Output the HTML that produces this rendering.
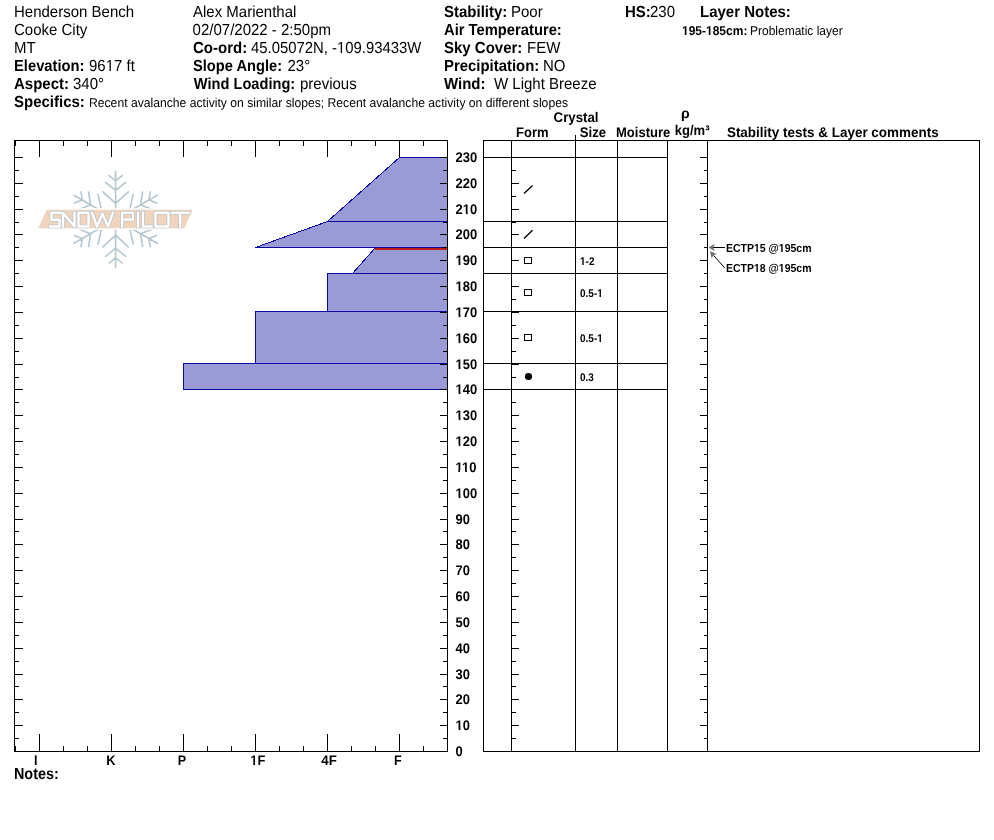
<!DOCTYPE html>
<html><head><meta charset="utf-8"><style>
html,body{margin:0;padding:0;background:#fff;width:994px;height:840px;overflow:hidden}
svg{display:block;will-change:transform}
text{font-family:"Liberation Sans", sans-serif;fill:#000;text-rendering:geometricPrecision}
</style></head><body>
<svg width="994" height="840" viewBox="0 0 994 840" shape-rendering="auto">
<text transform="translate(14,17) scale(1,1.067)" font-size="15">Henderson Bench</text>
<text transform="translate(14,35) scale(1,1.067)" font-size="15">Cooke City</text>
<text transform="translate(14,53) scale(1,1.067)" font-size="15">MT</text>
<text transform="translate(14,71) scale(1,1.067)" font-size="15" font-weight="bold" textLength="70.5" lengthAdjust="spacingAndGlyphs">Elevation:</text>
<text transform="translate(89,71) scale(1,1.067)" font-size="15">9617 ft</text>
<text transform="translate(14,89) scale(1,1.067)" font-size="15" font-weight="bold">Aspect:</text>
<text transform="translate(73,89) scale(1,1.067)" font-size="15">340°</text>
<text transform="translate(14,107) scale(1,1.067)" font-size="15" font-weight="bold">Specifics:</text>
<text transform="translate(89,107) scale(1,1.07)" font-size="12" textLength="479" lengthAdjust="spacingAndGlyphs">Recent avalanche activity on similar slopes; Recent avalanche activity on different slopes</text>
<text transform="translate(193,17) scale(1,1.067)" font-size="15">Alex Marienthal</text>
<text transform="translate(192.6,35) scale(1,1.067)" font-size="15">02/07/2022 - 2:50pm</text>
<text transform="translate(193,53) scale(1,1.067)" font-size="15" font-weight="bold">Co-ord:</text>
<text transform="translate(251,53) scale(1,1.067)" font-size="15" textLength="170.4" lengthAdjust="spacingAndGlyphs">45.05072N, -109.93433W</text>
<text transform="translate(193,71) scale(1,1.067)" font-size="15" font-weight="bold" textLength="89.1" lengthAdjust="spacingAndGlyphs">Slope Angle:</text>
<text transform="translate(287.5,71) scale(1,1.067)" font-size="15">23°</text>
<text transform="translate(193.8,89) scale(1,1.067)" font-size="15" font-weight="bold" textLength="101.4" lengthAdjust="spacingAndGlyphs">Wind Loading:</text>
<text transform="translate(300,89) scale(1,1.067)" font-size="15">previous</text>
<text transform="translate(444,17) scale(1,1.067)" font-size="15" font-weight="bold">Stability:</text>
<text transform="translate(511,17) scale(1,1.067)" font-size="15">Poor</text>
<text transform="translate(444,35) scale(1,1.067)" font-size="15" font-weight="bold" textLength="117.8" lengthAdjust="spacingAndGlyphs">Air Temperature:</text>
<text transform="translate(444,53) scale(1,1.067)" font-size="15" font-weight="bold">Sky Cover:</text>
<text transform="translate(527,53) scale(1,1.067)" font-size="15">FEW</text>
<text transform="translate(444,71) scale(1,1.067)" font-size="15" font-weight="bold" textLength="95.3" lengthAdjust="spacingAndGlyphs">Precipitation:</text>
<text transform="translate(543,71) scale(1,1.067)" font-size="15">NO</text>
<text transform="translate(444,89) scale(1,1.067)" font-size="15" font-weight="bold">Wind:</text>
<text transform="translate(494,89) scale(1,1.067)" font-size="15">W Light Breeze</text>
<text transform="translate(625,17) scale(1,1.067)" font-size="15" font-weight="bold">HS:</text>
<text transform="translate(650,17) scale(1,1.067)" font-size="15">230</text>
<text transform="translate(700,17) scale(1,1.067)" font-size="15" font-weight="bold">Layer Notes:</text>
<text transform="translate(682,35) scale(1,1.07)" font-size="12" font-weight="bold">195-185cm:</text>
<text transform="translate(750,35) scale(1,1.07)" font-size="12">Problematic layer</text>
<text transform="translate(553.6,122) scale(0.946,1)" font-size="14" font-weight="bold">Crystal</text>
<text transform="translate(516,137) scale(0.93,1)" font-size="14" font-weight="bold">Form</text>
<text transform="translate(579.7,137) scale(0.94,1)" font-size="14" font-weight="bold">Size</text>
<text transform="translate(616,137) scale(0.93,1)" font-size="14" font-weight="bold">Moisture</text>
<text transform="translate(681.1,117.8) scale(1.0,1)" font-size="14" font-weight="bold">ρ</text>
<text transform="translate(674.8,135) scale(0.93,1)" font-size="14" font-weight="bold">kg/m³</text>
<text transform="translate(726.9,137) scale(0.962,1)" font-size="14" font-weight="bold">Stability tests &amp; Layer comments</text>
<polygon points="447.5,157.5 399.5,157.5 327.5,221.5 447.5,221.5" fill="#9a9ad6" stroke="#0c0aa0" stroke-width="1" shape-rendering="crispEdges"/>
<polygon points="447.5,221.5 327.5,221.5 255.5,247.5 447.5,247.5" fill="#9a9ad6" stroke="#0c0aa0" stroke-width="1" shape-rendering="crispEdges"/>
<polygon points="447.5,247.5 375.5,247.5 352.5,273.5 447.5,273.5" fill="#9a9ad6" stroke="#0c0aa0" stroke-width="1" shape-rendering="crispEdges"/>
<polygon points="447.5,273.5 327.5,273.5 327.5,311.5 447.5,311.5" fill="#9a9ad6" stroke="#0c0aa0" stroke-width="1" shape-rendering="crispEdges"/>
<polygon points="447.5,311.5 255.5,311.5 255.5,363.5 447.5,363.5" fill="#9a9ad6" stroke="#0c0aa0" stroke-width="1" shape-rendering="crispEdges"/>
<polygon points="447.5,363.5 183.5,363.5 183.5,389.5 447.5,389.5" fill="#9a9ad6" stroke="#0c0aa0" stroke-width="1" shape-rendering="crispEdges"/>
<rect x="375" y="248" width="72" height="2" fill="#be1e16"/>
<rect x="14" y="140" width="434" height="1" fill="#000"/>
<rect x="14" y="751" width="434" height="1" fill="#000"/>
<rect x="14" y="140" width="1" height="612" fill="#000"/>
<rect x="447" y="140" width="1" height="612" fill="#000"/>
<rect x="15" y="140" width="1" height="6" fill="#000"/>
<rect x="15" y="746" width="1" height="6" fill="#000"/>
<rect x="39" y="140" width="1" height="17" fill="#000"/>
<rect x="39" y="734" width="1" height="18" fill="#000"/>
<rect x="63" y="140" width="1" height="6" fill="#000"/>
<rect x="63" y="746" width="1" height="6" fill="#000"/>
<rect x="87" y="140" width="1" height="6" fill="#000"/>
<rect x="87" y="746" width="1" height="6" fill="#000"/>
<rect x="111" y="140" width="1" height="17" fill="#000"/>
<rect x="111" y="734" width="1" height="18" fill="#000"/>
<rect x="135" y="140" width="1" height="6" fill="#000"/>
<rect x="135" y="746" width="1" height="6" fill="#000"/>
<rect x="159" y="140" width="1" height="6" fill="#000"/>
<rect x="159" y="746" width="1" height="6" fill="#000"/>
<rect x="183" y="140" width="1" height="17" fill="#000"/>
<rect x="183" y="734" width="1" height="18" fill="#000"/>
<rect x="207" y="140" width="1" height="6" fill="#000"/>
<rect x="207" y="746" width="1" height="6" fill="#000"/>
<rect x="231" y="140" width="1" height="6" fill="#000"/>
<rect x="231" y="746" width="1" height="6" fill="#000"/>
<rect x="255" y="140" width="1" height="17" fill="#000"/>
<rect x="255" y="734" width="1" height="18" fill="#000"/>
<rect x="279" y="140" width="1" height="6" fill="#000"/>
<rect x="279" y="746" width="1" height="6" fill="#000"/>
<rect x="303" y="140" width="1" height="6" fill="#000"/>
<rect x="303" y="746" width="1" height="6" fill="#000"/>
<rect x="327" y="140" width="1" height="17" fill="#000"/>
<rect x="327" y="734" width="1" height="18" fill="#000"/>
<rect x="351" y="140" width="1" height="6" fill="#000"/>
<rect x="351" y="746" width="1" height="6" fill="#000"/>
<rect x="375" y="140" width="1" height="6" fill="#000"/>
<rect x="375" y="746" width="1" height="6" fill="#000"/>
<rect x="399" y="140" width="1" height="17" fill="#000"/>
<rect x="399" y="734" width="1" height="18" fill="#000"/>
<rect x="423" y="140" width="1" height="6" fill="#000"/>
<rect x="423" y="746" width="1" height="6" fill="#000"/>
<rect x="447" y="140" width="1" height="6" fill="#000"/>
<rect x="447" y="746" width="1" height="6" fill="#000"/>
<rect x="14" y="751" width="9" height="1" fill="#000"/>
<rect x="440" y="751" width="8" height="1" fill="#000"/>
<rect x="511" y="751" width="8" height="1" fill="#000"/>
<rect x="700" y="751" width="8" height="1" fill="#000"/>
<text transform="translate(455.6,756.1) scale(0.925,1)" font-size="14" font-weight="bold">0</text>
<rect x="14" y="738" width="5" height="1" fill="#000"/>
<rect x="443" y="738" width="5" height="1" fill="#000"/>
<rect x="511" y="738" width="5" height="1" fill="#000"/>
<rect x="704" y="738" width="4" height="1" fill="#000"/>
<rect x="14" y="725" width="9" height="1" fill="#000"/>
<rect x="440" y="725" width="8" height="1" fill="#000"/>
<rect x="511" y="725" width="8" height="1" fill="#000"/>
<rect x="700" y="725" width="8" height="1" fill="#000"/>
<text transform="translate(455.6,730.1) scale(0.925,1)" font-size="14" font-weight="bold">10</text>
<rect x="14" y="712" width="5" height="1" fill="#000"/>
<rect x="443" y="712" width="5" height="1" fill="#000"/>
<rect x="511" y="712" width="5" height="1" fill="#000"/>
<rect x="704" y="712" width="4" height="1" fill="#000"/>
<rect x="14" y="699" width="9" height="1" fill="#000"/>
<rect x="440" y="699" width="8" height="1" fill="#000"/>
<rect x="511" y="699" width="8" height="1" fill="#000"/>
<rect x="700" y="699" width="8" height="1" fill="#000"/>
<text transform="translate(455.6,704.1) scale(0.925,1)" font-size="14" font-weight="bold">20</text>
<rect x="14" y="686" width="5" height="1" fill="#000"/>
<rect x="443" y="686" width="5" height="1" fill="#000"/>
<rect x="511" y="686" width="5" height="1" fill="#000"/>
<rect x="704" y="686" width="4" height="1" fill="#000"/>
<rect x="14" y="674" width="9" height="1" fill="#000"/>
<rect x="440" y="674" width="8" height="1" fill="#000"/>
<rect x="511" y="674" width="8" height="1" fill="#000"/>
<rect x="700" y="674" width="8" height="1" fill="#000"/>
<text transform="translate(455.6,679.1) scale(0.925,1)" font-size="14" font-weight="bold">30</text>
<rect x="14" y="661" width="5" height="1" fill="#000"/>
<rect x="443" y="661" width="5" height="1" fill="#000"/>
<rect x="511" y="661" width="5" height="1" fill="#000"/>
<rect x="704" y="661" width="4" height="1" fill="#000"/>
<rect x="14" y="648" width="9" height="1" fill="#000"/>
<rect x="440" y="648" width="8" height="1" fill="#000"/>
<rect x="511" y="648" width="8" height="1" fill="#000"/>
<rect x="700" y="648" width="8" height="1" fill="#000"/>
<text transform="translate(455.6,653.1) scale(0.925,1)" font-size="14" font-weight="bold">40</text>
<rect x="14" y="635" width="5" height="1" fill="#000"/>
<rect x="443" y="635" width="5" height="1" fill="#000"/>
<rect x="511" y="635" width="5" height="1" fill="#000"/>
<rect x="704" y="635" width="4" height="1" fill="#000"/>
<rect x="14" y="622" width="9" height="1" fill="#000"/>
<rect x="440" y="622" width="8" height="1" fill="#000"/>
<rect x="511" y="622" width="8" height="1" fill="#000"/>
<rect x="700" y="622" width="8" height="1" fill="#000"/>
<text transform="translate(455.6,627.1) scale(0.925,1)" font-size="14" font-weight="bold">50</text>
<rect x="14" y="609" width="5" height="1" fill="#000"/>
<rect x="443" y="609" width="5" height="1" fill="#000"/>
<rect x="511" y="609" width="5" height="1" fill="#000"/>
<rect x="704" y="609" width="4" height="1" fill="#000"/>
<rect x="14" y="596" width="9" height="1" fill="#000"/>
<rect x="440" y="596" width="8" height="1" fill="#000"/>
<rect x="511" y="596" width="8" height="1" fill="#000"/>
<rect x="700" y="596" width="8" height="1" fill="#000"/>
<text transform="translate(455.6,601.1) scale(0.925,1)" font-size="14" font-weight="bold">60</text>
<rect x="14" y="583" width="5" height="1" fill="#000"/>
<rect x="443" y="583" width="5" height="1" fill="#000"/>
<rect x="511" y="583" width="5" height="1" fill="#000"/>
<rect x="704" y="583" width="4" height="1" fill="#000"/>
<rect x="14" y="570" width="9" height="1" fill="#000"/>
<rect x="440" y="570" width="8" height="1" fill="#000"/>
<rect x="511" y="570" width="8" height="1" fill="#000"/>
<rect x="700" y="570" width="8" height="1" fill="#000"/>
<text transform="translate(455.6,575.1) scale(0.925,1)" font-size="14" font-weight="bold">70</text>
<rect x="14" y="557" width="5" height="1" fill="#000"/>
<rect x="443" y="557" width="5" height="1" fill="#000"/>
<rect x="511" y="557" width="5" height="1" fill="#000"/>
<rect x="704" y="557" width="4" height="1" fill="#000"/>
<rect x="14" y="544" width="9" height="1" fill="#000"/>
<rect x="440" y="544" width="8" height="1" fill="#000"/>
<rect x="511" y="544" width="8" height="1" fill="#000"/>
<rect x="700" y="544" width="8" height="1" fill="#000"/>
<text transform="translate(455.6,549.1) scale(0.925,1)" font-size="14" font-weight="bold">80</text>
<rect x="14" y="531" width="5" height="1" fill="#000"/>
<rect x="443" y="531" width="5" height="1" fill="#000"/>
<rect x="511" y="531" width="5" height="1" fill="#000"/>
<rect x="704" y="531" width="4" height="1" fill="#000"/>
<rect x="14" y="519" width="9" height="1" fill="#000"/>
<rect x="440" y="519" width="8" height="1" fill="#000"/>
<rect x="511" y="519" width="8" height="1" fill="#000"/>
<rect x="700" y="519" width="8" height="1" fill="#000"/>
<text transform="translate(455.6,524.1) scale(0.925,1)" font-size="14" font-weight="bold">90</text>
<rect x="14" y="506" width="5" height="1" fill="#000"/>
<rect x="443" y="506" width="5" height="1" fill="#000"/>
<rect x="511" y="506" width="5" height="1" fill="#000"/>
<rect x="704" y="506" width="4" height="1" fill="#000"/>
<rect x="14" y="493" width="9" height="1" fill="#000"/>
<rect x="440" y="493" width="8" height="1" fill="#000"/>
<rect x="511" y="493" width="8" height="1" fill="#000"/>
<rect x="700" y="493" width="8" height="1" fill="#000"/>
<text transform="translate(455.6,498.1) scale(0.925,1)" font-size="14" font-weight="bold">100</text>
<rect x="14" y="480" width="5" height="1" fill="#000"/>
<rect x="443" y="480" width="5" height="1" fill="#000"/>
<rect x="511" y="480" width="5" height="1" fill="#000"/>
<rect x="704" y="480" width="4" height="1" fill="#000"/>
<rect x="14" y="467" width="9" height="1" fill="#000"/>
<rect x="440" y="467" width="8" height="1" fill="#000"/>
<rect x="511" y="467" width="8" height="1" fill="#000"/>
<rect x="700" y="467" width="8" height="1" fill="#000"/>
<text transform="translate(455.6,472.1) scale(0.925,1)" font-size="14" font-weight="bold">110</text>
<rect x="14" y="454" width="5" height="1" fill="#000"/>
<rect x="443" y="454" width="5" height="1" fill="#000"/>
<rect x="511" y="454" width="5" height="1" fill="#000"/>
<rect x="704" y="454" width="4" height="1" fill="#000"/>
<rect x="14" y="441" width="9" height="1" fill="#000"/>
<rect x="440" y="441" width="8" height="1" fill="#000"/>
<rect x="511" y="441" width="8" height="1" fill="#000"/>
<rect x="700" y="441" width="8" height="1" fill="#000"/>
<text transform="translate(455.6,446.1) scale(0.925,1)" font-size="14" font-weight="bold">120</text>
<rect x="14" y="428" width="5" height="1" fill="#000"/>
<rect x="443" y="428" width="5" height="1" fill="#000"/>
<rect x="511" y="428" width="5" height="1" fill="#000"/>
<rect x="704" y="428" width="4" height="1" fill="#000"/>
<rect x="14" y="415" width="9" height="1" fill="#000"/>
<rect x="440" y="415" width="8" height="1" fill="#000"/>
<rect x="511" y="415" width="8" height="1" fill="#000"/>
<rect x="700" y="415" width="8" height="1" fill="#000"/>
<text transform="translate(455.6,420.1) scale(0.925,1)" font-size="14" font-weight="bold">130</text>
<rect x="14" y="402" width="5" height="1" fill="#000"/>
<rect x="443" y="402" width="5" height="1" fill="#000"/>
<rect x="511" y="402" width="5" height="1" fill="#000"/>
<rect x="704" y="402" width="4" height="1" fill="#000"/>
<rect x="14" y="389" width="9" height="1" fill="#000"/>
<rect x="440" y="389" width="8" height="1" fill="#000"/>
<rect x="511" y="389" width="8" height="1" fill="#000"/>
<rect x="700" y="389" width="8" height="1" fill="#000"/>
<text transform="translate(455.6,394.1) scale(0.925,1)" font-size="14" font-weight="bold">140</text>
<rect x="14" y="377" width="5" height="1" fill="#000"/>
<rect x="443" y="377" width="5" height="1" fill="#000"/>
<rect x="511" y="377" width="5" height="1" fill="#000"/>
<rect x="704" y="377" width="4" height="1" fill="#000"/>
<rect x="14" y="364" width="9" height="1" fill="#000"/>
<rect x="440" y="364" width="8" height="1" fill="#000"/>
<rect x="511" y="364" width="8" height="1" fill="#000"/>
<rect x="700" y="364" width="8" height="1" fill="#000"/>
<text transform="translate(455.6,369.1) scale(0.925,1)" font-size="14" font-weight="bold">150</text>
<rect x="14" y="351" width="5" height="1" fill="#000"/>
<rect x="443" y="351" width="5" height="1" fill="#000"/>
<rect x="511" y="351" width="5" height="1" fill="#000"/>
<rect x="704" y="351" width="4" height="1" fill="#000"/>
<rect x="14" y="338" width="9" height="1" fill="#000"/>
<rect x="440" y="338" width="8" height="1" fill="#000"/>
<rect x="511" y="338" width="8" height="1" fill="#000"/>
<rect x="700" y="338" width="8" height="1" fill="#000"/>
<text transform="translate(455.6,343.1) scale(0.925,1)" font-size="14" font-weight="bold">160</text>
<rect x="14" y="325" width="5" height="1" fill="#000"/>
<rect x="443" y="325" width="5" height="1" fill="#000"/>
<rect x="511" y="325" width="5" height="1" fill="#000"/>
<rect x="704" y="325" width="4" height="1" fill="#000"/>
<rect x="14" y="312" width="9" height="1" fill="#000"/>
<rect x="440" y="312" width="8" height="1" fill="#000"/>
<rect x="511" y="312" width="8" height="1" fill="#000"/>
<rect x="700" y="312" width="8" height="1" fill="#000"/>
<text transform="translate(455.6,317.1) scale(0.925,1)" font-size="14" font-weight="bold">170</text>
<rect x="14" y="299" width="5" height="1" fill="#000"/>
<rect x="443" y="299" width="5" height="1" fill="#000"/>
<rect x="511" y="299" width="5" height="1" fill="#000"/>
<rect x="704" y="299" width="4" height="1" fill="#000"/>
<rect x="14" y="286" width="9" height="1" fill="#000"/>
<rect x="440" y="286" width="8" height="1" fill="#000"/>
<rect x="511" y="286" width="8" height="1" fill="#000"/>
<rect x="700" y="286" width="8" height="1" fill="#000"/>
<text transform="translate(455.6,291.1) scale(0.925,1)" font-size="14" font-weight="bold">180</text>
<rect x="14" y="273" width="5" height="1" fill="#000"/>
<rect x="443" y="273" width="5" height="1" fill="#000"/>
<rect x="511" y="273" width="5" height="1" fill="#000"/>
<rect x="704" y="273" width="4" height="1" fill="#000"/>
<rect x="14" y="260" width="9" height="1" fill="#000"/>
<rect x="440" y="260" width="8" height="1" fill="#000"/>
<rect x="511" y="260" width="8" height="1" fill="#000"/>
<rect x="700" y="260" width="8" height="1" fill="#000"/>
<text transform="translate(455.6,265.1) scale(0.925,1)" font-size="14" font-weight="bold">190</text>
<rect x="14" y="247" width="5" height="1" fill="#000"/>
<rect x="443" y="247" width="5" height="1" fill="#000"/>
<rect x="511" y="247" width="5" height="1" fill="#000"/>
<rect x="704" y="247" width="4" height="1" fill="#000"/>
<rect x="14" y="234" width="9" height="1" fill="#000"/>
<rect x="440" y="234" width="8" height="1" fill="#000"/>
<rect x="511" y="234" width="8" height="1" fill="#000"/>
<rect x="700" y="234" width="8" height="1" fill="#000"/>
<text transform="translate(455.6,239.1) scale(0.925,1)" font-size="14" font-weight="bold">200</text>
<rect x="14" y="222" width="5" height="1" fill="#000"/>
<rect x="443" y="222" width="5" height="1" fill="#000"/>
<rect x="511" y="222" width="5" height="1" fill="#000"/>
<rect x="704" y="222" width="4" height="1" fill="#000"/>
<rect x="14" y="209" width="9" height="1" fill="#000"/>
<rect x="440" y="209" width="8" height="1" fill="#000"/>
<rect x="511" y="209" width="8" height="1" fill="#000"/>
<rect x="700" y="209" width="8" height="1" fill="#000"/>
<text transform="translate(455.6,214.1) scale(0.925,1)" font-size="14" font-weight="bold">210</text>
<rect x="14" y="196" width="5" height="1" fill="#000"/>
<rect x="443" y="196" width="5" height="1" fill="#000"/>
<rect x="511" y="196" width="5" height="1" fill="#000"/>
<rect x="704" y="196" width="4" height="1" fill="#000"/>
<rect x="14" y="183" width="9" height="1" fill="#000"/>
<rect x="440" y="183" width="8" height="1" fill="#000"/>
<rect x="511" y="183" width="8" height="1" fill="#000"/>
<rect x="700" y="183" width="8" height="1" fill="#000"/>
<text transform="translate(455.6,188.1) scale(0.925,1)" font-size="14" font-weight="bold">220</text>
<rect x="14" y="170" width="5" height="1" fill="#000"/>
<rect x="443" y="170" width="5" height="1" fill="#000"/>
<rect x="511" y="170" width="5" height="1" fill="#000"/>
<rect x="704" y="170" width="4" height="1" fill="#000"/>
<rect x="14" y="157" width="9" height="1" fill="#000"/>
<rect x="440" y="157" width="8" height="1" fill="#000"/>
<rect x="511" y="157" width="8" height="1" fill="#000"/>
<rect x="700" y="157" width="8" height="1" fill="#000"/>
<text transform="translate(455.6,162.1) scale(0.925,1)" font-size="14" font-weight="bold">230</text>
<text transform="translate(34.1,765) scale(0.9,1)" font-size="14" font-weight="bold">I</text>
<text transform="translate(106.3,765) scale(0.92,1)" font-size="14" font-weight="bold">K</text>
<text transform="translate(177.79999999999998,765) scale(0.9,1)" font-size="14" font-weight="bold">P</text>
<text transform="translate(250.29999999999998,765) scale(0.92,1)" font-size="14" font-weight="bold">1F</text>
<text transform="translate(321.3,765) scale(0.95,1)" font-size="14" font-weight="bold">4F</text>
<text transform="translate(393.90000000000003,765) scale(0.9,1)" font-size="14" font-weight="bold">F</text>
<text transform="translate(14,779) scale(1,1.067)" font-size="15" font-weight="bold" textLength="44.7" lengthAdjust="spacingAndGlyphs">Notes:</text>
<rect x="483" y="140" width="497" height="1" fill="#000"/>
<rect x="483" y="751" width="497" height="1" fill="#000"/>
<rect x="483" y="140" width="1" height="612" fill="#000"/>
<rect x="511" y="140" width="1" height="612" fill="#000"/>
<rect x="617" y="140" width="1" height="612" fill="#000"/>
<rect x="667" y="140" width="1" height="612" fill="#000"/>
<rect x="707" y="140" width="1" height="612" fill="#000"/>
<rect x="979" y="140" width="1" height="612" fill="#000"/>
<rect x="575" y="135" width="1" height="617" fill="#000"/>
<rect x="483" y="157" width="185" height="1" fill="#000"/>
<rect x="483" y="221" width="185" height="1" fill="#000"/>
<rect x="483" y="247" width="185" height="1" fill="#000"/>
<rect x="483" y="273" width="185" height="1" fill="#000"/>
<rect x="483" y="311" width="185" height="1" fill="#000"/>
<rect x="483" y="363" width="185" height="1" fill="#000"/>
<rect x="483" y="389" width="185" height="1" fill="#000"/>
<path d="M524 193.6L532.6 185.4M524 238.6L532.6 230.2" stroke="#000" stroke-width="1.35" fill="none"/>
<rect x="524.5" y="257.5" width="7" height="6" fill="none" stroke="#000" stroke-width="1"/>
<rect x="524.5" y="289.5" width="7" height="6" fill="none" stroke="#000" stroke-width="1"/>
<rect x="524.5" y="334.5" width="7" height="6" fill="none" stroke="#000" stroke-width="1"/>
<circle cx="528.5" cy="376.5" r="3.6" fill="#000"/>
<text transform="translate(580,265.0) scale(1,1.12)" font-size="10" font-weight="bold">1-2</text>
<text transform="translate(580,297.0) scale(1,1.12)" font-size="10" font-weight="bold">0.5-1</text>
<text transform="translate(580,342.0) scale(1,1.12)" font-size="10" font-weight="bold">0.5-1</text>
<text transform="translate(580,381.0) scale(1,1.12)" font-size="10" font-weight="bold">0.3</text>
<line x1="725" y1="247.5" x2="712" y2="247.5" stroke="#000" stroke-width="1"/>
<polygon points="708.6,247.5 714.8,243.8 713.2,247.5 714.8,251.2" fill="#6f6f6f"/>
<line x1="724.6" y1="267.8" x2="713.5" y2="255.3" stroke="#000" stroke-width="1"/>
<polygon points="709.9,251.2 717.0,254.0 713.3,255.0 711.8,258.6" fill="#6f6f6f"/>
<text transform="translate(726,252) scale(1,1.12)" font-size="10.4" font-weight="bold" textLength="85.5" lengthAdjust="spacingAndGlyphs">ECTP15 @195cm</text>
<text transform="translate(726,272) scale(1,1.12)" font-size="10.4" font-weight="bold" textLength="85.5" lengthAdjust="spacingAndGlyphs">ECTP18 @195cm</text>
<path d="M115.6 219.3L115.6 171.3M115.6 180.8L109.1 175.6M115.6 180.8L122.1 175.6M115.6 190.4L105.6 182.3M115.6 190.4L125.6 182.3M115.6 203.4L102.9 191.8M115.6 203.4L128.3 191.8M115.6 219.3L157.2 195.3M148.9 200.1L150.2 191.8M148.9 200.1L156.7 203.1M140.6 204.9L142.6 192.1M140.6 204.9L152.6 209.5M129.4 211.4L133.1 194.6M129.4 211.4L145.8 216.5M115.6 219.3L157.2 243.3M148.9 238.6L156.7 235.5M148.9 238.6L150.2 246.8M140.6 233.8L152.6 229.1M140.6 233.8L142.6 246.5M129.4 227.2L145.8 222.1M129.4 227.2L133.1 244.0M115.6 219.3L115.6 267.3M115.6 257.8L122.1 263.0M115.6 257.8L109.1 263.0M115.6 248.2L125.6 256.3M115.6 248.2L105.6 256.3M115.6 235.2L128.3 246.8M115.6 235.2L102.9 246.8M115.6 219.3L74.0 243.3M82.3 238.6L81.0 246.8M82.3 238.6L74.5 235.5M90.6 233.8L88.6 246.5M90.6 233.8L78.6 229.1M101.8 227.3L98.1 244.0M101.8 227.3L85.4 222.1M115.6 219.3L74.0 195.3M82.3 200.1L74.5 203.1M82.3 200.1L81.0 191.8M90.6 204.9L78.6 209.5M90.6 204.9L88.6 192.1M101.8 211.4L85.4 216.5M101.8 211.4L98.1 194.6" stroke="#b6c6cf" stroke-width="1.6" stroke-linecap="round" fill="none"/>
<polygon points="46.1,209.1 193.7,209.1 184.7,229 37.2,229" fill="#efd5bd" stroke="#fff" stroke-width="1.5"/>
<path d="M60.5 212.7H51.5V219.8H59.5V226.5H50M63 226.5V212.7L74.5 226.5V212.7M78.5 212.7H88.5V226.5H78.5ZM92 212.7L97 226.5L102.5 213.7L108 226.5L113 212.7M122 226.5V212.7H133V219.5H122M138 212.7V226.5M143 212.7V226.5H151.5M155.5 212.7H168.5V226.5H155.5ZM172 212.7H188.5M180.2 212.7V226.5" stroke="#b4bfc5" stroke-width="3.7" fill="none" stroke-linejoin="round" stroke-linecap="square"/>
<path d="M60.5 212.7H51.5V219.8H59.5V226.5H50M63 226.5V212.7L74.5 226.5V212.7M78.5 212.7H88.5V226.5H78.5ZM92 212.7L97 226.5L102.5 213.7L108 226.5L113 212.7M122 226.5V212.7H133V219.5H122M138 212.7V226.5M143 212.7V226.5H151.5M155.5 212.7H168.5V226.5H155.5ZM172 212.7H188.5M180.2 212.7V226.5" stroke="#fff" stroke-width="2.45" fill="none" stroke-linejoin="round" stroke-linecap="square"/>
<g><polygon points="106.12,69.06 114.00,69.06 114.00,71.75 106.12,71.75" fill="#fff"/><polygon points="109.45,69.00 110.78,69.00 110.78,71.00 109.45,71.00" fill="#000"/><polygon points="337.45,51.06 345.28,51.06 345.28,53.75 337.45,53.75" fill="#fff"/><polygon points="340.76,51.00 342.08,51.00 342.08,53.00 340.76,53.00" fill="#000"/><polygon points="682.06,32.94 689.05,32.94 689.05,35.75 682.06,35.75" fill="#fff"/><polygon points="684.81,32.89 686.46,32.89 686.46,35.00 684.81,35.00" fill="#000"/><polygon points="706.07,32.94 713.07,32.94 713.07,35.75 706.07,35.75" fill="#fff"/><polygon points="708.82,32.89 710.47,32.89 710.47,35.00 708.82,35.00" fill="#000"/><polygon points="455.77,727.97 463.10,727.97 463.10,730.80 455.77,730.80" fill="#fff"/><polygon points="458.63,727.92 460.41,727.92 460.41,730.10 458.63,730.10" fill="#000"/><polygon points="455.77,495.97 463.10,495.97 463.10,498.80 455.77,498.80" fill="#fff"/><polygon points="458.63,495.92 460.41,495.92 460.41,498.10 458.63,498.10" fill="#000"/><polygon points="455.69,469.97 462.41,469.97 462.41,472.80 455.69,472.80" fill="#fff"/><polygon points="458.32,469.92 459.92,469.92 459.92,472.10 458.32,472.10" fill="#000"/><polygon points="462.25,469.97 469.59,469.97 469.59,472.80 462.25,472.80" fill="#fff"/><polygon points="465.11,469.92 466.89,469.92 466.89,472.10 465.11,472.10" fill="#000"/><polygon points="455.77,443.97 463.10,443.97 463.10,446.80 455.77,446.80" fill="#fff"/><polygon points="458.63,443.92 460.41,443.92 460.41,446.10 458.63,446.10" fill="#000"/><polygon points="455.77,417.97 463.10,417.97 463.10,420.80 455.77,420.80" fill="#fff"/><polygon points="458.63,417.92 460.41,417.92 460.41,420.10 458.63,420.10" fill="#000"/><polygon points="455.77,391.97 463.10,391.97 463.10,394.80 455.77,394.80" fill="#fff"/><polygon points="458.63,391.92 460.41,391.92 460.41,394.10 458.63,394.10" fill="#000"/><polygon points="455.77,366.97 463.10,366.97 463.10,369.80 455.77,369.80" fill="#fff"/><polygon points="458.63,366.92 460.41,366.92 460.41,369.10 458.63,369.10" fill="#000"/><polygon points="455.77,340.97 463.10,340.97 463.10,343.80 455.77,343.80" fill="#fff"/><polygon points="458.63,340.92 460.41,340.92 460.41,343.10 458.63,343.10" fill="#000"/><polygon points="455.77,314.97 463.10,314.97 463.10,317.80 455.77,317.80" fill="#fff"/><polygon points="458.63,314.92 460.41,314.92 460.41,317.10 458.63,317.10" fill="#000"/><polygon points="455.77,288.97 463.10,288.97 463.10,291.80 455.77,291.80" fill="#fff"/><polygon points="458.63,288.92 460.41,288.92 460.41,291.10 458.63,291.10" fill="#000"/><polygon points="455.77,262.97 463.10,262.97 463.10,265.80 455.77,265.80" fill="#fff"/><polygon points="458.63,262.92 460.41,262.92 460.41,265.10 458.63,265.10" fill="#000"/><polygon points="462.97,211.97 470.30,211.97 470.30,214.80 462.97,214.80" fill="#fff"/><polygon points="465.82,211.92 467.60,211.92 467.60,214.10 465.82,214.10" fill="#000"/><polygon points="250.47,762.87 257.76,762.87 257.76,765.70 250.47,765.70" fill="#fff"/><polygon points="253.31,762.82 255.08,762.82 255.08,765.00 253.31,765.00" fill="#000"/><polygon points="579.93,263.07 585.98,263.07 585.98,265.78 579.93,265.78" fill="#fff"/><polygon points="582.33,263.02 583.71,263.02 583.71,265.00 582.33,265.00" fill="#000"/><polygon points="597.15,295.07 603.22,295.07 603.22,297.78 597.15,297.78" fill="#fff"/><polygon points="599.56,295.02 600.94,295.02 600.94,297.00 599.56,297.00" fill="#000"/><polygon points="597.15,340.07 603.22,340.07 603.22,342.78 597.15,342.78" fill="#fff"/><polygon points="599.56,340.02 600.94,340.02 600.94,342.00 599.56,342.00" fill="#000"/><polygon points="753.94,250.03 760.24,250.03 760.24,252.78 753.94,252.78" fill="#fff"/><polygon points="756.44,249.97 757.88,249.97 757.88,252.00 756.44,252.00" fill="#000"/><polygon points="778.77,250.03 785.06,250.03 785.06,252.78 778.77,252.78" fill="#fff"/><polygon points="781.26,249.97 782.70,249.97 782.70,252.00 781.26,252.00" fill="#000"/><polygon points="753.94,270.03 760.24,270.03 760.24,272.78 753.94,272.78" fill="#fff"/><polygon points="756.44,269.97 757.88,269.97 757.88,272.00 756.44,272.00" fill="#000"/><polygon points="778.77,270.03 785.06,270.03 785.06,272.78 778.77,272.78" fill="#fff"/><polygon points="781.26,269.97 782.70,269.97 782.70,272.00 781.26,272.00" fill="#000"/></g>
</svg>
</body></html>
